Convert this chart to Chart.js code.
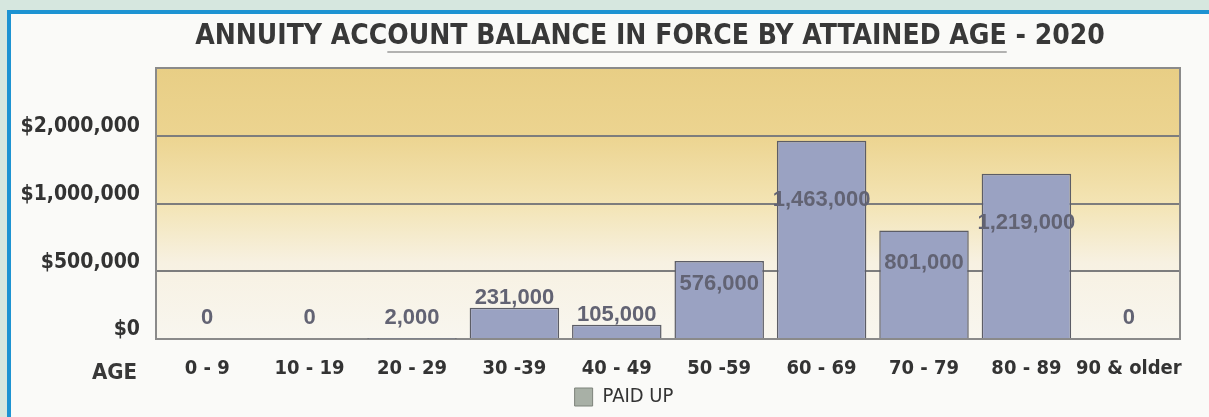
<!DOCTYPE html>
<html>
<head>
<meta charset="utf-8">
<script src="https://cdn.jsdelivr.net/npm/chart.js@4.4.1/dist/chart.umd.min.js"></script>
<style>
  html, body { margin: 0; padding: 0; }
  body { width: 1209px; height: 417px; overflow: hidden; background: #d6e7df; position: relative; }
  #frame { position: absolute; left: 7px; top: 10px; width: 1300px; height: 500px;
           border-left: 4px solid #1d93d2; border-top: 4px solid #1d93d2; background: #fafaf8; }
  #wrap { position: absolute; left: 0; top: 0; width: 1209px; height: 417px; }
</style>
</head>
<body>
<div id="frame"></div>
<div id="wrap"><canvas id="balanceChart" width="1209" height="417"></canvas></div>
<script>
// age bands and account balances (paid up)
const ageBands = ['0 - 9', '10 - 19', '20 - 29', '30 -39', '40 - 49', '50 -59', '60 - 69', '70 - 79', '80 - 89', '90 & older'];
const paidUp = [0, 0, 2000, 231000, 105000, 576000, 1463000, 801000, 1219000, 0];
// tick labels as printed on the original (one per gridline from the bottom)
const tickLabels = ['$0', '$500,000', '$1,000,000', '$2,000,000', ''];
const chartTitle = 'ANNUITY ACCOUNT BALANCE IN FORCE BY ATTAINED AGE - 2020';

const narrow = "'DejaVu Sans Condensed', 'DejaVu Sans', sans-serif";

const decorations = {
    id: 'decorations',
    afterLayout(chart) {
        // legend sits a little right of centre in the original
        if (chart.legend) {
            chart.legend.left += 34;
            chart.legend.right += 34;
        }
    },
    beforeDraw(chart) {
        const { ctx, chartArea: a } = chart;
        const g = ctx.createLinearGradient(0, a.top, 0, a.bottom);
        g.addColorStop(0, '#e8ce85');
        g.addColorStop(0.25, '#ecd490');
        g.addColorStop(0.5, '#f3e4b4');
        g.addColorStop(0.72, '#f7f1e2');
        g.addColorStop(1, '#f8f6ef');
        ctx.save();
        ctx.fillStyle = g;
        ctx.fillRect(a.left, a.top, a.right - a.left, a.bottom - a.top);
        ctx.restore();
    },
    beforeDatasetsDraw(chart) {
        const { ctx, chartArea: a } = chart;
        ctx.save();
        ctx.strokeStyle = '#8a8a8a';
        ctx.lineWidth = 2;
        ctx.strokeRect(a.left, a.top, a.right - a.left, a.bottom - a.top);
        ctx.restore();
    },
    afterDatasetsDraw(chart) {
        // value labels
        const { ctx, chartArea: a } = chart;
        const meta = chart.getDatasetMeta(0);
        const yScale = chart.scales.y;
        ctx.save();
        ctx.font = "bold 22px 'Liberation Sans', Arial, sans-serif";
        ctx.textAlign = 'center';
        ctx.textBaseline = 'middle';
        ctx.fillStyle = '#626373';
        meta.data.forEach((bar, i) => {
            const v = paidUp[i];
            const top = yScale.getPixelForValue(v);
            const h = a.bottom - top;
            let y;
            if (h > 60) y = top + Math.max(22, 0.3 * h);
            else y = Math.min(top - 10, 318);
            ctx.fillText(v.toLocaleString('en-US'), bar.x, y);
        });
        ctx.restore();
    },
    afterDraw(chart) {
        const { ctx } = chart;
        ctx.save();
        // title
        ctx.font = "condensed bold 28px " + narrow;
        ctx.fillStyle = '#383838';
        ctx.textAlign = 'center';
        ctx.textBaseline = 'middle';
        const cx = 650;
        ctx.fillText(chartTitle, cx, 37);
        const w = ctx.measureText(chartTitle).width;
        const x0 = cx - w / 2;
        const startU = x0 + ctx.measureText('ANNUITY ACC').width;
        const endU = x0 + ctx.measureText('ANNUITY ACCOUNT BALANCE IN FORCE BY ATTAINED AGE').width;
        ctx.strokeStyle = '#9a9a9a';
        ctx.lineWidth = 1.5;
        ctx.beginPath();
        ctx.moveTo(startU, 52);
        ctx.lineTo(endU, 52);
        ctx.stroke();
        // AGE label beside the category axis
        ctx.font = "condensed bold 22px " + narrow;
        ctx.textAlign = 'right';
        ctx.fillText('AGE', 137, 373);
        ctx.restore();
    }
};

new Chart(document.getElementById('balanceChart').getContext('2d'), {
    type: 'bar',
    data: {
        labels: ageBands,
        datasets: [{
            label: 'PAID UP',
            data: paidUp,
            backgroundColor: '#9aa2c2',
            borderColor: '#5c5d66',
            borderWidth: 1.5,
            barPercentage: 0.92,
            categoryPercentage: 0.95
        }]
    },
    options: {
        responsive: false,
        animation: false,
        layout: { padding: { top: 68, left: 0, right: 29, bottom: 0 } },
        plugins: {
            title: { display: false },
            tooltip: { enabled: false },
            legend: {
                position: 'bottom',
                labels: {
                    font: { family: narrow, size: 20, style: 'condensed' },
                    color: '#333',
                    boxWidth: 18,
                    boxHeight: 18,
                    padding: 4,
                    generateLabels: () => [{
                        text: 'PAID UP',
                        fillStyle: '#a8b0a6',
                        strokeStyle: '#7d837b',
                        lineWidth: 1,
                        fontColor: '#333'
                    }]
                }
            }
        },
        scales: {
            x: {
                grid: { display: false },
                border: { display: false },
                ticks: {
                    font: { family: narrow, size: 20, weight: 'bold', style: 'condensed' },
                    color: '#333',
                    padding: 10,
                    autoSkip: false,
                    maxRotation: 0
                },
                afterFit: s => { s.height = 44; }
            },
            y: {
                min: 0,
                max: 2000000,
                grid: { color: '#7d7d7d', lineWidth: 2, drawTicks: false },
                border: { display: false },
                ticks: {
                    stepSize: 500000,
                    font: { family: narrow, size: 21, weight: 'bold', style: 'condensed' },
                    color: '#333',
                    padding: 16,
                    labelOffset: -9,
                    callback: (v, i) => tickLabels[i]
                },
                afterFit: s => { s.width = 156; }
            }
        }
    },
    plugins: [decorations]
});
</script>
</body>
</html>
